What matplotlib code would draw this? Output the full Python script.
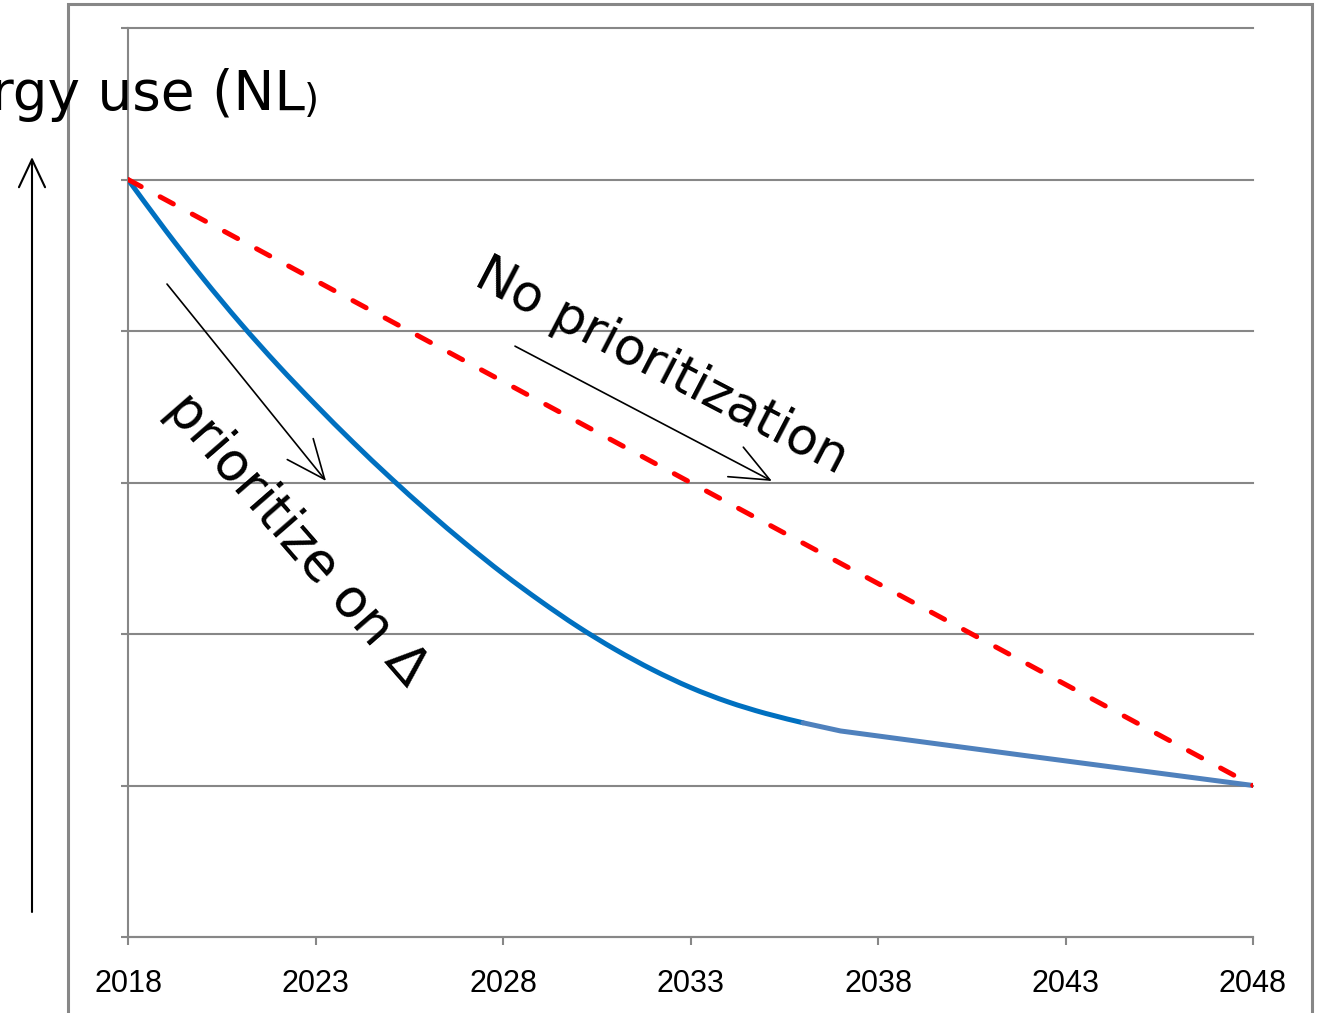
import matplotlib
matplotlib.use("Agg")
import matplotlib.pyplot as plt
from matplotlib.patches import Rectangle, PathPatch
from matplotlib.path import Path

# energy use index per year, prioritised path (smoothed part up to 2036)
years_prior = list(range(2018, 2037))
energy_prior = [5.000, 4.665, 4.348, 4.051, 3.774, 3.514, 3.266, 3.031, 2.808,
                2.597, 2.399, 2.217, 2.048, 1.897, 1.763, 1.647, 1.552, 1.476,
                1.414]
# tail of the prioritised path
years_tail = [2036, 2037, 2042, 2048]
energy_tail = [1.414, 1.36, 1.195, 1.00]
# straight path without prioritisation
years_flat = [2018, 2048]
energy_flat = [5.0, 1.0]

xticks = [2018, 2023, 2028, 2033, 2038, 2043, 2048]

GRAY = "#878787"
W, H = 1320, 1013


def smooth_path(xs, ys):
    """Catmull-Rom curve through the points, as cubic Bezier segments."""
    pts = list(zip(xs, ys))
    verts = [pts[0]]
    codes = [Path.MOVETO]
    n = len(pts)
    for i in range(n - 1):
        p0 = pts[max(i - 1, 0)]
        p1 = pts[i]
        p2 = pts[i + 1]
        p3 = pts[min(i + 2, n - 1)]
        c1 = (p1[0] + (p2[0] - p0[0]) / 6, p1[1] + (p2[1] - p0[1]) / 6)
        c2 = (p2[0] - (p3[0] - p1[0]) / 6, p2[1] - (p3[1] - p1[1]) / 6)
        verts += [c1, c2, p2]
        codes += [Path.CURVE4] * 3
    return Path(verts, codes)


fig = plt.figure(figsize=(W / 100, H / 100), dpi=100)
ax = fig.add_axes([128 / W, (H - 937) / H, (1253 - 128) / W, (937 - 28) / H])

ax.add_patch(PathPatch(smooth_path(years_prior, energy_prior), fill=False,
                       edgecolor="#0070C0", lw=3.6, capstyle="round",
                       joinstyle="round", zorder=3))
ax.plot(years_tail, energy_tail, color="#4F81BD", lw=3.6,
        solid_capstyle="round", solid_joinstyle="round", zorder=3)
ax.plot(years_flat, energy_flat, color="#FF0000", lw=3.6,
        linestyle=(0, (3.0, 4.3)), dash_capstyle="round", zorder=4)

ax.set_xlim(2018, 2048)
ax.set_ylim(0, 6)
ax.set_xticks(xticks)
ax.set_xticklabels([str(x) for x in xticks], fontsize=22,
                   family="Liberation Sans")
ax.set_yticks(range(0, 7))
ax.set_yticklabels([])
ax.tick_params(axis="x", length=6, width=1.5, color=GRAY, pad=17)
ax.tick_params(axis="y", length=5, width=1.5, color=GRAY)
ax.grid(axis="y", color=GRAY, lw=1.5)
for gl in ax.get_ygridlines():
    gl.set_clip_on(False)
ax.set_axisbelow(True)
for side in ("top", "right"):
    ax.spines[side].set_visible(False)
for side in ("left", "bottom"):
    ax.spines[side].set_color(GRAY)
    ax.spines[side].set_linewidth(1.5)

# diagonal annotation arrows
arrow = dict(arrowstyle="->,head_length=1.4,head_width=0.6", color="black",
             lw=1.2, mutation_scale=20, shrinkA=0, shrinkB=0)
ax.annotate("", xy=(2023.28, 3.01), xytext=(2019.04, 4.31), arrowprops=arrow)
ax.annotate("", xy=(2035.17, 3.01), xytext=(2028.32, 3.90), arrowprops=arrow)

ax.text(2032.05, 3.68, "No prioritization", fontsize=37, rotation=-27.5,
        rotation_mode="anchor", ha="center", va="baseline", family="DejaVu Sans")
ax.text(2022.2, 2.56, "prioritize on \u0394", fontsize=38, rotation=-49,
        rotation_mode="anchor", ha="center", va="baseline", family="DejaVu Sans")

# vertical arrow and label on the left
ax.annotate("", xy=(32, H - 157), xytext=(32, H - 912),
            xycoords="figure pixels", textcoords="figure pixels",
            arrowprops=dict(arrowstyle="->,head_length=1.0,head_width=0.47",
                            color="black", lw=1.5, mutation_scale=20,
                            shrinkA=0, shrinkB=0),
            annotation_clip=False)
fig.text(305 / W, (H - 110) / H, "Energy use (NL", fontsize=39.5,
         ha="right", va="baseline", family="DejaVu Sans")
fig.text(304 / W, (H - 112) / H, ")", fontsize=28,
         ha="left", va="baseline", family="DejaVu Sans")

# outer frame of the chart area
fig.add_artist(Rectangle((68 / W, -0.05), (1312 - 68) / W, (H - 4) / H + 0.05,
                         transform=fig.transFigure, fill=False,
                         edgecolor=GRAY, lw=2.2))

fig.savefig("out.png", dpi=100)
